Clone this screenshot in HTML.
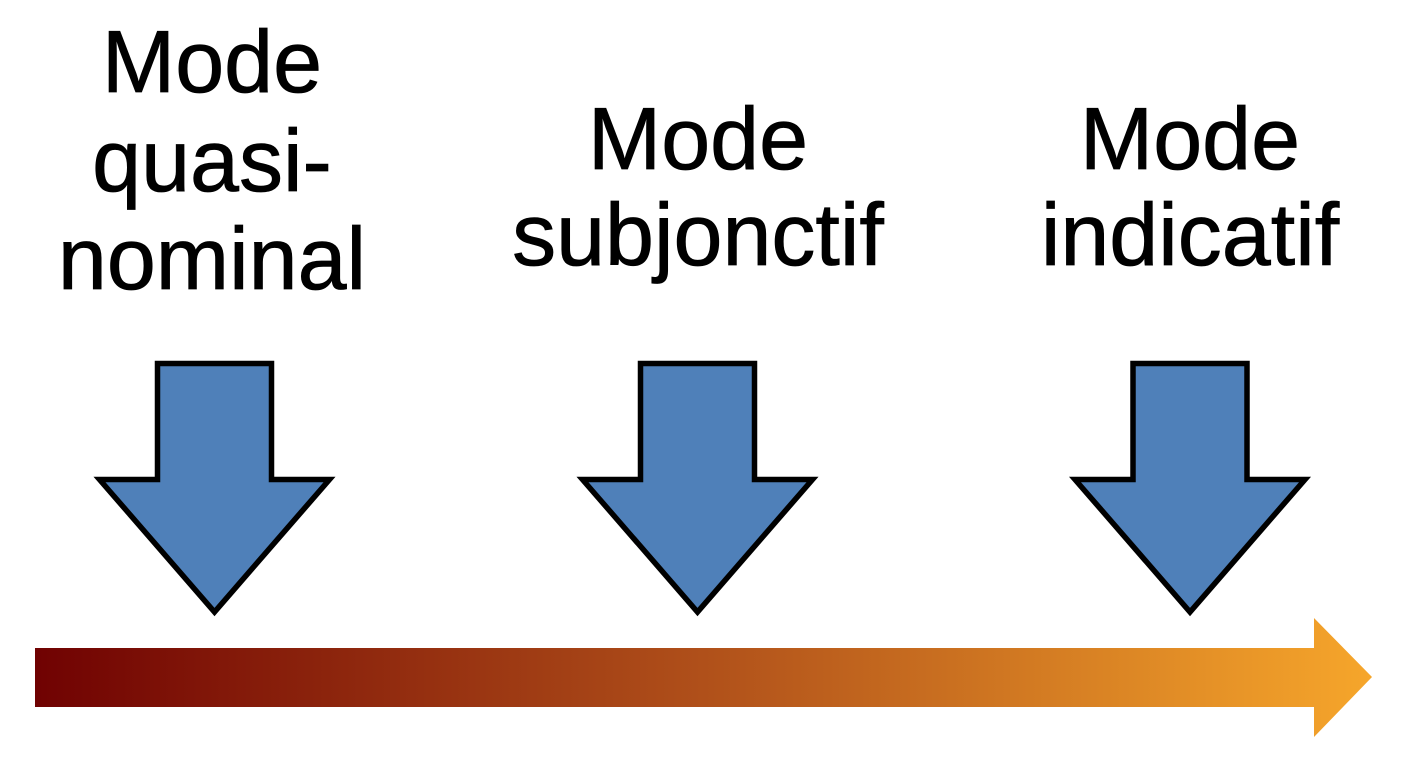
<!DOCTYPE html>
<html>
<head>
<meta charset="utf-8">
<style>
  html,body{margin:0;padding:0;background:#ffffff;}
  svg{display:block;}
  text{font-family:"Liberation Sans", Arial, sans-serif;fill:#000;stroke:#000;stroke-width:0.8;}
</style>
</head>
<body>
<svg width="1408" height="768" viewBox="0 0 1408 768" xmlns="http://www.w3.org/2000/svg">
  <defs>
    <linearGradient id="g" x1="35" y1="0" x2="1372" y2="0" gradientUnits="userSpaceOnUse">
      <stop offset="0" stop-color="#700202"/>
      <stop offset="0.5" stop-color="#b0501a"/>
      <stop offset="1" stop-color="#f6a62b"/>
    </linearGradient>
  </defs>
  <rect width="1408" height="768" fill="#ffffff"/>

  <!-- Labels -->
  <g font-size="88" text-anchor="middle">
    <text x="212" y="92">Mode</text>
    <text x="212" y="191">quasi-</text>
    <text x="212" y="289">nominal</text>

    <text x="698" y="169">Mode</text>
    <text x="698" y="265">subjonctif</text>

    <text x="1190" y="169">Mode</text>
    <text x="1190" y="265">indicatif</text>
  </g>

  <!-- Down arrows -->
  <g fill="#4f80b9" stroke="#000" stroke-width="5.5" stroke-linejoin="miter">
    <path d="M157.5,363.5 H271.5 V479.5 H329.5 L214.5,612 L99.5,479.5 H157.5 Z"/>
    <path d="M640.5,363.5 H754.5 V479.5 H812.5 L697.5,612 L582.5,479.5 H640.5 Z"/>
    <path d="M1133,363.5 H1247 V479.5 H1305 L1190,612 L1075,479.5 H1133 Z"/>
  </g>

  <!-- Gradient timeline arrow -->
  <path d="M35,648 H1314 V618 L1372,677 L1314,737 V707 H35 Z" fill="url(#g)"/>
</svg>
</body>
</html>
